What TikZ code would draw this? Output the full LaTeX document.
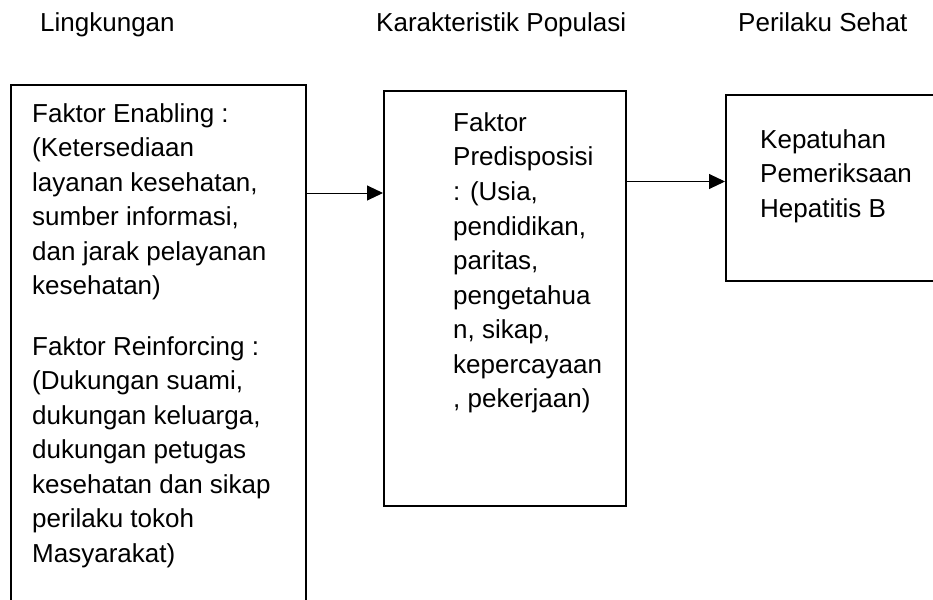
\documentclass[tikz,border=0pt]{standalone}
\usepackage{fontspec}
\setmainfont{Liberation Sans}
\usetikzlibrary{arrows.meta}
\begin{document}
\begin{tikzpicture}[x=1pt,y=-1pt,
  frame/.style={draw, line width=2pt, anchor=north west, inner sep=0pt},
  txt/.style={anchor=base west, inner sep=0pt, font=\fontsize{26}{34.5}\selectfont},
  arr/.style={line width=1pt, -{Triangle[length=16pt,width=15pt]}}]
\useasboundingbox (0,0) rectangle (933,599);
\clip (0,0) rectangle (933,599);
% titles
\node[txt] (t1) at (40,32) {Lingkungan};
\node[txt] (t2) at (376,32) {Karakteristik Populasi};
\node[txt] (t3) at (738,32) {Perilaku Sehat};
% boxes
\node[frame, minimum width=295pt, minimum height=531pt] (b1) at (10,84) {};
\node[frame, minimum width=242pt, minimum height=415pt] (b2) at (383,90) {};
\node[frame, minimum width=240pt, minimum height=186pt] (b3) at (725,94) {};
% texts
\node[txt] (x1) at (32,122) {\begin{tabular}[t]{@{}l@{}}
Faktor Enabling :\\
(Ketersediaan\\
layanan kesehatan,\\
sumber informasi,\\
dan jarak pelayanan\\
kesehatan)\\[26pt]
Faktor Reinforcing :\\
(Dukungan suami,\\
dukungan keluarga,\\
dukungan petugas\\
kesehatan dan sikap\\
perilaku tokoh\\
Masyarakat)
\end{tabular}};
\node[txt] (x2) at (453,131.5) {\begin{tabular}[t]{@{}l@{}}
Faktor\\
Predisposisi\\
: (Usia,\\
pendidikan,\\
paritas,\\
pengetahua\\
n, sikap,\\
kepercayaan\\
, pekerjaan)
\end{tabular}};
\node[txt] (x3) at (760,148) {\begin{tabular}[t]{@{}l@{}}
Kepatuhan\\
Pemeriksaan\\
Hepatitis B
\end{tabular}};
% connectors
\coordinate (a1) at (0,193);
\coordinate (a2) at (0,181.5);
\draw[arr] (b1.east |- a1) -- (b2.west |- a1);
\draw[arr] (b2.east |- a2) -- (b3.west |- a2);
\end{tikzpicture}
\end{document}
